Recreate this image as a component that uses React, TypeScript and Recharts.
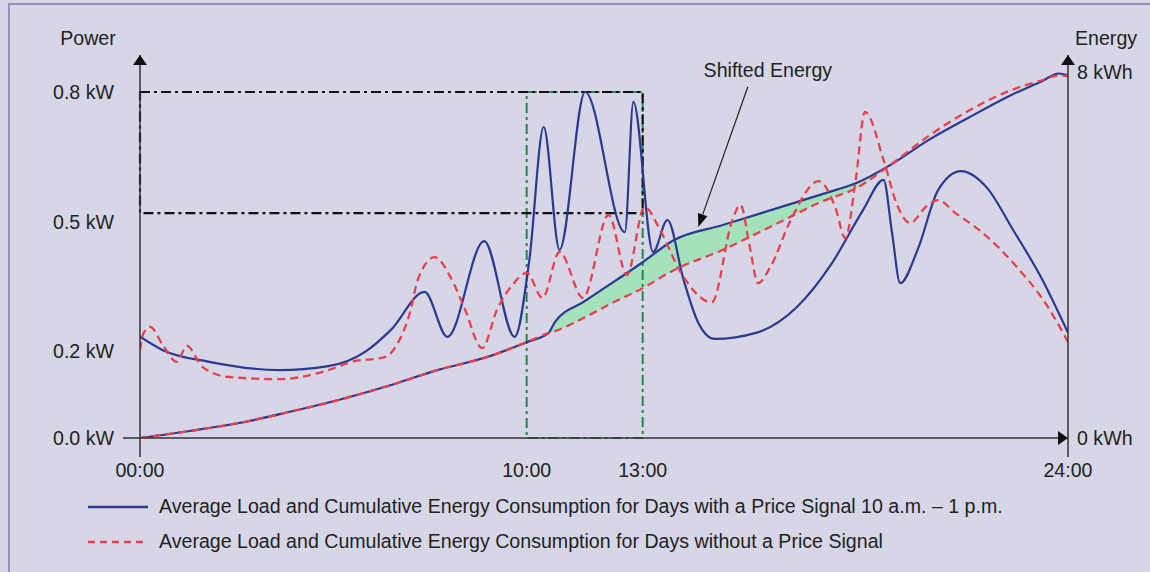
import React from 'react';
import {
  ComposedChart,
  Line,
  Area,
  XAxis,
  YAxis,
  ReferenceArea,
  ReferenceLine,
} from 'recharts';

// ---------- data ----------
// Average load (kW) — days with a price signal 10 a.m. – 1 p.m.
const bluePowerHours = [0, 0.59, 1.79, 3.59, 4.87, 5.82, 6.49, 7.36, 7.95, 8.9, 9.69, 10.07, 10.44, 10.85, 11.51, 12.54, 12.76, 13.27, 13.64, 14.06, 14.44, 14.86, 15.93, 16.99, 17.9, 18.7, 19.23, 19.45, 19.66, 20.11, 20.64, 21.23, 21.89, 22.58, 23.3, 24];
const bluePowerKw = [0.234, 0.203, 0.176, 0.157, 0.166, 0.199, 0.25, 0.338, 0.234, 0.455, 0.234, 0.412, 0.719, 0.435, 0.8, 0.476, 0.777, 0.43, 0.504, 0.365, 0.266, 0.229, 0.243, 0.303, 0.405, 0.527, 0.597, 0.474, 0.358, 0.435, 0.573, 0.617, 0.58, 0.481, 0.372, 0.243];

// Average load (kW) — days without a price signal
const redPowerHours = [0, 0.08, 0.26, 0.59, 0.95, 1.21, 1.62, 2.31, 3.59, 4.87, 5.46, 6.33, 6.67, 7.0, 7.18, 7.62, 8.03, 8.38, 8.85, 9.23, 9.67, 10.0, 10.41, 10.85, 11.46, 12.12, 12.59, 13.05, 13.45, 13.99, 14.79, 15.32, 15.53, 15.77, 15.98, 16.3, 16.83, 17.55, 17.98, 18.24, 18.51, 18.75, 19.23, 19.58, 19.92, 20.32, 20.64, 21.09, 21.7, 22.58, 23.48, 24];
const redPowerKw = [0.203, 0.24, 0.257, 0.215, 0.176, 0.213, 0.164, 0.141, 0.136, 0.157, 0.176, 0.187, 0.22, 0.296, 0.365, 0.418, 0.372, 0.303, 0.208, 0.296, 0.358, 0.382, 0.324, 0.43, 0.324, 0.516, 0.377, 0.534, 0.481, 0.382, 0.314, 0.504, 0.539, 0.442, 0.358, 0.395, 0.504, 0.594, 0.534, 0.462, 0.597, 0.754, 0.643, 0.539, 0.497, 0.534, 0.55, 0.52, 0.481, 0.405, 0.303, 0.222];

// Cumulative energy (kWh)
const energyHours = [0, 1.28, 2.56, 3.85, 5.13, 6.41, 7.69, 8.97, 10.0, 10.56, 10.73, 11.46, 12.2, 13.0, 13.8, 15.05, 16.38, 17.71, 18.51, 19.39, 20.38, 21.44, 22.51, 23.31, 23.76, 24];
const blueEnergyKwh = [0, 0.153, 0.328, 0.568, 0.831, 1.137, 1.486, 1.77, 2.098, 2.295, 2.536, 2.973, 3.388, 3.847, 4.328, 4.656, 5.005, 5.355, 5.574, 5.967, 6.514, 7.016, 7.497, 7.803, 7.978, 7.934];
const redEnergyKwh = [0, 0.153, 0.328, 0.568, 0.831, 1.137, 1.486, 1.77, 2.098, 2.295, 2.339, 2.623, 2.951, 3.279, 3.672, 4.109, 4.656, 5.202, 5.464, 5.967, 6.601, 7.169, 7.607, 7.825, 7.934, 7.913];

const hourTicks = [0, 10, 13, 24];
const powerTicks = [0, 0.2, 0.5, 0.8];
const energyTicks = [0, 8];

const SIGNAL_START = 10;
const SIGNAL_END = 13;
const PEAK_KW = 0.8;
const SHIFT_BAND_LOW_KW = 0.52;

const annotationFrom = { h: 15.72, kw: 0.812 };
const annotationTo = { h: 14.44, kw: 0.488 };

const legendItems = [
  { name: 'Average Load and Cumulative Energy Consumption for Days with a Price Signal 10 a.m. – 1 p.m.', color: '#2b3990', dashed: false },
  { name: 'Average Load and Cumulative Energy Consumption for Days without a Price Signal', color: '#e8404c', dashed: true },
];

// ---------- styles ----------
const BLUE = '#2b3990';
const RED = '#e8404c';
const GREEN = '#1f8a4c';
const SHADE = '#a3e2bb';
const BG = '#d6d6e6';
const FONT = '"Liberation Sans", Arial, Helvetica, sans-serif';
const FS = 19.6;
const TXT = '#222';

const W = 1150;
const H = 572;

const XTick = (props: any) => {
  const { x, y, payload } = props;
  const v = payload.value;
  const label = `${String(v).padStart(2, '0')}:00`;
  const showLine = v === 0 || v === 24;
  return (
    <g>
      {showLine && <line x1={x} x2={x} y1={y - 6 - 19} y2={y - 6} stroke="#333" strokeWidth={1.5} />}
      <text x={x} y={y} dy="0.71em" textAnchor="middle" fontFamily={FONT} fontSize={FS} fill={TXT}>
        {label}
      </text>
    </g>
  );
};

const PowerTick = (props: any) => {
  const { x, y, payload } = props;
  const v = payload.value;
  return (
    <g>
      {v === 0 && <line x1={x + 9} x2={x + 26} y1={y} y2={y} stroke="#333" strokeWidth={1.5} />}
      <text x={x} y={y} dy="0.355em" textAnchor="end" fontFamily={FONT} fontSize={FS} fill={TXT}>
        {`${v.toFixed(1)} kW`}
      </text>
    </g>
  );
};

const EnergyTick = (props: any) => {
  const { x, y, payload } = props;
  return (
    <text x={x} y={y} dy="0.355em" textAnchor="start" fontFamily={FONT} fontSize={FS} fill={TXT}>
      {`${payload.value} kWh`}
    </text>
  );
};

const PowerTitle = (props: any) => {
  const vb = props.viewBox || {};
  return (
    <text x={vb.x + vb.width - 52} y={vb.y - 10} textAnchor="middle" fontFamily={FONT} fontSize={FS} fill={TXT}>
      Power
    </text>
  );
};

const EnergyTitle = (props: any) => {
  const vb = props.viewBox || {};
  return (
    <text x={vb.x + 7} y={vb.y - 10} textAnchor="start" fontFamily={FONT} fontSize={FS} fill={TXT}>
      Energy
    </text>
  );
};

const ArrowAnnotation = (props: any) => {
  const { x1, y1, x2, y2 } = props;
  const ang = Math.atan2(y2 - y1, x2 - x1);
  const len = 13;
  const half = 5;
  const bx = x2 - len * Math.cos(ang);
  const by = y2 - len * Math.sin(ang);
  const px = -Math.sin(ang) * half;
  const py = Math.cos(ang) * half;
  return (
    <g>
      <line x1={x1} y1={y1} x2={bx} y2={by} stroke="#222" strokeWidth={1.2} />
      <polygon points={`${x2},${y2} ${bx + px},${by + py} ${bx - px},${by - py}`} fill="#111" />
      <text x={x1 + 20} y={y1 - 10} textAnchor="middle" fontFamily={FONT} fontSize={FS} fill={TXT}>
        Shifted Energy
      </text>
    </g>
  );
};

export default function App() {
  const bluePower = bluePowerHours.map((h, i) => ({ h, v: bluePowerKw[i] }));
  const redPower = redPowerHours.map((h, i) => ({ h, v: redPowerKw[i] }));
  const energy = energyHours.map((h, i) => ({
    h,
    blue: blueEnergyKwh[i],
    red: redEnergyKwh[i],
    shade: blueEnergyKwh[i] >= redEnergyKwh[i] ? [redEnergyKwh[i], blueEnergyKwh[i]] : null,
  }));

  const axisStyle = { stroke: '#333', strokeWidth: 1.5 };

  return (
    <div style={{ position: 'absolute', left: 0, top: 0, width: W, height: H, background: BG, overflow: 'hidden' }}>
      <div
        style={{
          position: 'absolute',
          left: 8,
          top: 3,
          right: -10,
          bottom: -10,
          borderTop: '2px solid #9d8cba',
          borderLeft: '2px solid #9d8cba',
        }}
      />
      <div style={{ position: 'absolute', left: 0, top: 0 }}>
        <ComposedChart width={W} height={H} margin={{ top: 55, right: 12, bottom: 104, left: 60 }}>
          <defs>
            <marker
              id="axArrow"
              viewBox="0 0 10 10"
              refX="10"
              refY="5"
              markerWidth="10"
              markerHeight="14"
              markerUnits="userSpaceOnUse"
              orient="auto-start-reverse"
              preserveAspectRatio="none"
            >
              <path d="M0,0 L10,5 L0,10 z" fill="#111" />
            </marker>
          </defs>
          <XAxis
            dataKey="h"
            type="number"
            domain={[0, 24]}
            ticks={hourTicks}
            interval={0}
            height={30}
            tickSize={19}
            tickMargin={6}
            tickLine={false}
            tick={<XTick />}
            axisLine={{ ...axisStyle, markerEnd: 'url(#axArrow)' }}
            allowDataOverflow
          />
          <YAxis
            yAxisId="power"
            orientation="left"
            type="number"
            domain={[0, 0.8855]}
            ticks={powerTicks}
            interval={0}
            width={80}
            tickSize={17}
            tickMargin={9}
            tickLine={false}
            tick={<PowerTick />}
            axisLine={{ ...axisStyle, markerStart: 'url(#axArrow)' }}
            label={{ content: <PowerTitle /> }}
            allowDataOverflow
          />
          <YAxis
            yAxisId="energy"
            orientation="right"
            type="number"
            domain={[0, 8.383]}
            ticks={energyTicks}
            interval={0}
            width={70}
            tickSize={0}
            tickMargin={9}
            tickLine={false}
            tick={<EnergyTick />}
            axisLine={{ ...axisStyle, markerStart: 'url(#axArrow)' }}
            label={{ content: <EnergyTitle /> }}
            allowDataOverflow
          />

          <Area
            yAxisId="energy"
            data={energy}
            dataKey="shade"
            type="monotone"
            stroke="none"
            fill={SHADE}
            fillOpacity={1}
            isAnimationActive={false}
            activeDot={false}
          />

          <ReferenceArea
            yAxisId="power"
            x1={SIGNAL_START}
            x2={SIGNAL_END}
            y1={0}
            y2={PEAK_KW}
            fill="none"
            stroke={GREEN}
            strokeWidth={2}
            strokeDasharray="10 4 3 4"
          />
          <ReferenceArea
            yAxisId="power"
            x1={0}
            x2={SIGNAL_END}
            y1={SHIFT_BAND_LOW_KW}
            y2={PEAK_KW}
            fill="none"
            stroke="#111"
            strokeWidth={2.2}
            strokeDasharray="10 4 3 4"
          />

          <Line yAxisId="energy" data={energy} dataKey="blue" type="monotone" stroke={BLUE} strokeWidth={2.2} dot={false} activeDot={false} isAnimationActive={false} />
          <Line yAxisId="power" data={bluePower} dataKey="v" type="monotone" stroke={BLUE} strokeWidth={2.2} dot={false} activeDot={false} isAnimationActive={false} />
          <Line yAxisId="energy" data={energy} dataKey="red" type="monotone" stroke={RED} strokeWidth={2.3} strokeDasharray="8 5" dot={false} activeDot={false} isAnimationActive={false} />
          <Line yAxisId="power" data={redPower} dataKey="v" type="monotone" stroke={RED} strokeWidth={2.3} strokeDasharray="8 5" dot={false} activeDot={false} isAnimationActive={false} />

          <ReferenceLine
            yAxisId="power"
            segment={[
              { x: annotationFrom.h, y: annotationFrom.kw },
              { x: annotationTo.h, y: annotationTo.kw },
            ]}
            shape={(p: any) => <ArrowAnnotation {...p} />}
          />
        </ComposedChart>
      </div>
      <div style={{ position: 'absolute', left: 88, top: 489, fontFamily: FONT, fontSize: FS, color: TXT }}>
        {legendItems.map((it) => (
          <div key={it.name} style={{ display: 'flex', alignItems: 'center', height: 35 }}>
            <svg width={62} height={10} style={{ marginRight: 9 }}>
              <line
                x1={0}
                x2={60}
                y1={5}
                y2={5}
                stroke={it.color}
                strokeWidth={2.4}
                strokeDasharray={it.dashed ? '7 5' : undefined}
              />
            </svg>
            <span>{it.name}</span>
          </div>
        ))}
      </div>
    </div>
  );
}
